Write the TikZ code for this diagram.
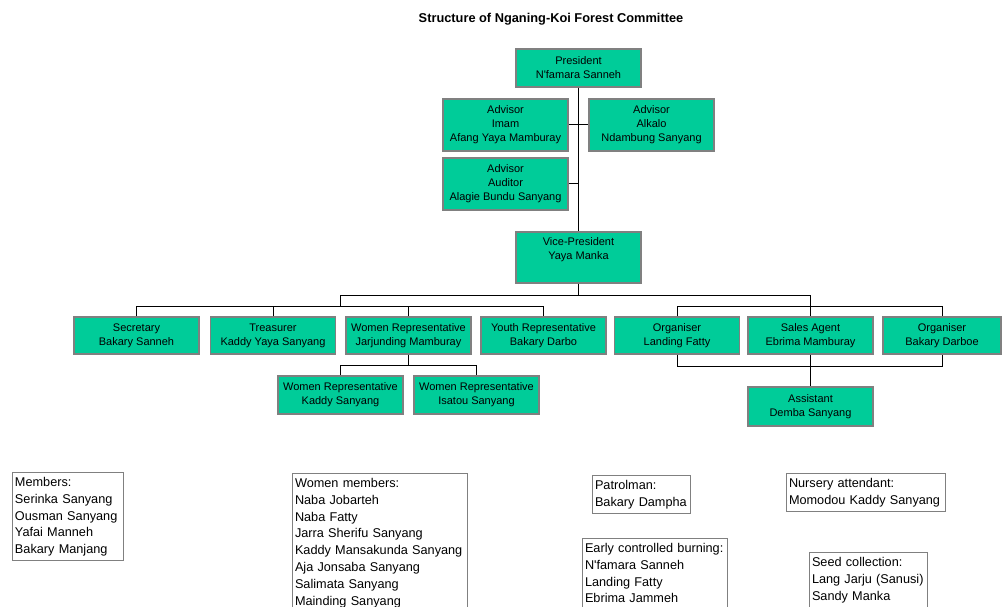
\documentclass[tikz,border=0pt]{standalone}
\usepackage{fontspec}
\setmainfont{Liberation Sans}
\definecolor{boxgreen}{RGB}{0,204,153}
\definecolor{edgegray}{RGB}{128,128,128}
\begin{document}
\begin{tikzpicture}[x=1pt,y=-1pt,
  box/.style={draw=edgegray, line width=1.2pt, fill=boxgreen, minimum width=125pt,
    minimum height=38pt, inner sep=0pt, align=center, font=\fontsize{11}{14}\selectfont},
  boxtext/.style={inner sep=0pt, align=center, font=\fontsize{11}{14}\selectfont},
  list/.style={draw=edgegray, line width=1pt, fill=white, anchor=north west, align=left,
    inner xsep=2.5pt, inner ysep=4.5pt,
    font=\fontsize{12.7}{16.9}\selectfont},
  conn/.style={draw=black, line width=1pt}]
\useasboundingbox (0,0) rectangle (1002,607);
\clip (0,0) rectangle (1002,607);

\node[font=\bfseries\fontsize{12.8}{15}\selectfont, anchor=base] (title) at (551,22.3)
  {Structure of Nganing-Koi Forest Committee};

% top part
\node[box] (pres) at (578.5,68) {President\\N\textquotesingle famara Sanneh};
\node[box, minimum height=52pt] (adv1) at (505.5,125) {Advisor\\Imam\\Afang Yaya Mamburay};
\node[box, minimum height=52pt] (adv2) at (651.5,125) {Advisor\\Alkalo\\Ndambung Sanyang};
\node[box, minimum height=52pt] (adv3) at (505.5,184) {Advisor\\Auditor\\Alagie Bundu Sanyang};
\node[box, minimum height=51pt] (vp) at (578.5,257.5) {};
\node[boxtext, anchor=north] (vptext) at ([yshift=-6pt]vp.north) {Vice-President\\Yaya Manka};

% main row
\node[box, minimum height=37pt] (sec) at (136.5,335.5) {Secretary\\Bakary Sanneh};
\node[box, minimum height=37pt] (tre) at (273,335.5) {Treasurer\\Kaddy Yaya Sanyang};
\node[box, minimum height=37pt] (wr) at (408.5,335.5) {Women Representative\\Jarjunding Mamburay};
\node[box, minimum height=37pt] (yr) at (543.5,335.5) {Youth Representative\\Bakary Darbo};
\node[box, minimum height=37pt] (org1) at (677,335.5) {Organiser\\Landing Fatty};
\node[box, minimum height=37pt] (sa) at (810.5,335.5) {Sales Agent\\Ebrima Mamburay};
\node[box, minimum height=37pt, minimum width=118pt] (org2) at (942,335.5) {Organiser\\Bakary Darboe};

% lower boxes
\node[box] (wr1) at (340.5,395) {Women Representative\\Kaddy Sanyang};
\node[box] (wr2) at (476.5,395) {Women Representative\\Isatou Sanyang};
\node[box, minimum height=39pt] (asst) at (810.5,406.5) {Assistant\\Demba Sanyang};

% connectors
\coordinate (lj) at (340,295);
\coordinate (rj) at (810.5,295);
\coordinate (lbar) at (0,306);
\coordinate (rbar) at (0,366);
\coordinate (wbar) at (0,365);
\draw[conn] (pres) -- (vp);
\draw[conn] (adv1.east) -- (adv2.west);
\draw[conn] (adv3.east) -- (adv3.east -| pres.south);
\draw[conn] (vp.south) -- (vp.south |- lj);
\draw[conn] (lj) -- (rj);
\draw[conn] (lj) -- (lj |- lbar);
\draw[conn] (sec.north) -- (sec.north |- lbar) -- (yr.north |- lbar) -- (yr.north);
\draw[conn] (tre.north) -- (tre.north |- lbar);
\draw[conn] (wr.north) -- (wr.north |- lbar);
\draw[conn] (rj) -- (sa.north);
\draw[conn] (org1.north) -- (org1.north |- lbar) -- (org2.north |- lbar) -- (org2.north);
\draw[conn] (org1.south) -- (org1.south |- rbar) -- (org2.south |- rbar) -- (org2.south);
\draw[conn] (sa.south) -- (asst.north);
\draw[conn] (wr.south) -- (wr.south |- wbar);
\draw[conn] (wr1.north) -- (wr1.north |- wbar) -- (wr2.north |- wbar) -- (wr2.north);

% lists
\node[list, text width=106pt] (members) at (12,472)
  {Members:\\Serinka Sanyang\\Ousman Sanyang\\Yafai Manneh\\Bakary Manjang};
\node[list, text width=170pt] (women) at (292,473)
  {Women members:\\Naba Jobarteh\\Naba Fatty\\Jarra Sherifu Sanyang\\Kaddy Mansakunda Sanyang\\Aja Jonsaba Sanyang\\Salimata Sanyang\\Mainding Sanyang\rule[-8pt]{0pt}{1pt}};
\node[list, text width=93pt] (patrol) at (592,475)
  {Patrolman:\\Bakary Dampha};
\node[list, text width=140pt] (early) at (582,538)
  {Early controlled burning:\\N\textquotesingle famara Sanneh\\Landing Fatty\\Ebrima Jammeh\rule[-8pt]{0pt}{1pt}};
\node[list, text width=154pt] (nursery) at (786,473)
  {Nursery attendant:\\Momodou Kaddy Sanyang};
\node[list, text width=113pt] (seed) at (809,552)
  {Seed collection:\\Lang Jarju (Sanusi)\\Sandy Manka\rule[-10pt]{0pt}{1pt}};
\end{tikzpicture}
\end{document}
